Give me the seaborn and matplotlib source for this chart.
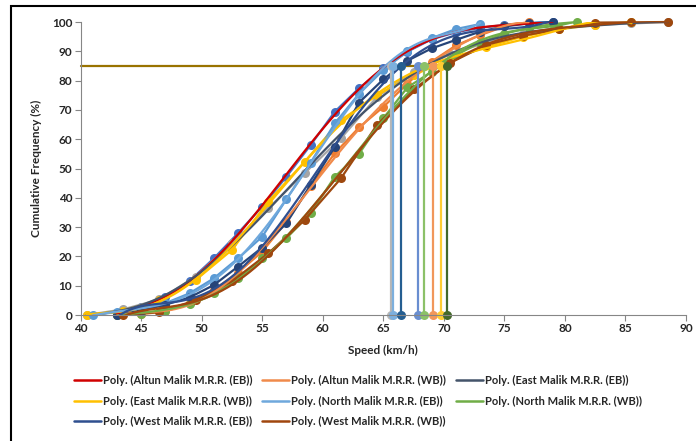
import numpy as np
import pandas as pd
import matplotlib
matplotlib.use('Agg')
import matplotlib.pyplot as plt
import seaborn as sns
from matplotlib.lines import Line2D
from matplotlib.patches import Rectangle

# Cumulative speed distributions per site (speed bins in km/h, cumulative %)
speed_altun_eb = [43, 45, 47, 49, 51, 53, 55, 57, 59, 61, 63, 65, 67, 69, 71, 73, 75, 77, 79]
cum_altun_eb = [0.5, 2.6, 6.3, 11.6, 19.3, 27.9, 37.0, 47.2, 58.0, 69.4, 77.4, 84.2, 89.9, 94.1, 96.5, 98.0, 99.0, 99.7, 100]

speed_altun_wb = [43, 45, 47, 49, 51, 53, 55, 57, 59, 61, 63, 65, 67, 69, 71, 73, 75, 77]
cum_altun_wb = [0, 0.3, 1.2, 4.0, 8.5, 14.5, 21.6, 31.8, 44.0, 55.2, 64.0, 71.0, 79.0, 86.5, 92.0, 95.5, 98.5, 100]

speed_east_eb = [40.5, 43.5, 46.5, 49.5, 52.5, 55.5, 58.5, 61.5, 64.5, 67.5, 70.5, 73.5, 76.5, 79.5, 82.5, 85.5, 88.5]
cum_east_eb = [0, 1.9, 5.3, 13.1, 24.5, 36.4, 48.4, 60.3, 74.5, 83.0, 89.0, 93.0, 96.0, 98.0, 99.0, 99.5, 100]

speed_east_wb = [40.5, 43.5, 46.5, 49.5, 52.5, 55.5, 58.5, 61.5, 64.5, 67.5, 70.5, 73.5, 76.5, 79.5, 82.5, 85.5]
cum_east_wb = [0, 1.5, 5.0, 11.9, 22.2, 38.7, 52.3, 66.5, 75.0, 82.0, 87.0, 91.5, 95.0, 97.5, 99.0, 100]

speed_north_eb = [41, 43, 45, 47, 49, 51, 53, 55, 57, 59, 61, 63, 65, 67, 69, 71, 73]
cum_north_eb = [0, 1.0, 2.0, 4.0, 7.4, 12.5, 19.3, 26.7, 39.5, 52.0, 65.4, 75.5, 83.6, 90.0, 94.5, 97.6, 99.3]

speed_north_wb = [43, 45, 47, 49, 51, 53, 55, 57, 59, 61, 63, 65, 67, 69, 71, 73, 75, 77, 79, 81]
cum_north_wb = [0, 0.5, 1.5, 3.75, 7.4, 12.5, 19.3, 26.2, 34.7, 47.2, 55.0, 67.1, 77.7, 83.0, 88.7, 93.0, 96.0, 98.0, 99.3, 100]

speed_west_eb = [43, 45, 47, 49, 51, 53, 55, 57, 59, 61, 63, 65, 67, 69, 71, 73, 75, 77, 79]
cum_west_eb = [0, 1.5, 3.5, 6.0, 10.2, 16.5, 23.0, 31.3, 44.4, 57.4, 72.5, 80.4, 86.8, 91.0, 93.9, 96.7, 98.5, 99.5, 100]

speed_west_wb = [43.5, 46.5, 49.5, 52.5, 55.5, 58.5, 61.5, 64.5, 67.5, 70.5, 73.5, 76.5, 79.5, 82.5, 85.5, 88.5]
cum_west_wb = [0, 1.0, 5.0, 11.5, 21.0, 32.4, 46.6, 65.0, 77.0, 86.0, 92.2, 95.3, 97.5, 99.8, 99.9, 100]

site_names = ['Altun Malik M.R.R. (EB)', 'Altun Malik M.R.R. (WB)', 'East Malik M.R.R. (EB)',
              'East Malik M.R.R. (WB)', 'North Malik M.R.R. (EB)', 'North Malik M.R.R. (WB)',
              'West Malik M.R.R. (EB)', 'West Malik M.R.R. (WB)']
site_speeds = [speed_altun_eb, speed_altun_wb, speed_east_eb, speed_east_wb,
               speed_north_eb, speed_north_wb, speed_west_eb, speed_west_wb]
site_cums = [cum_altun_eb, cum_altun_wb, cum_east_eb, cum_east_wb,
             cum_north_eb, cum_north_wb, cum_west_eb, cum_west_wb]

# 85th percentile speeds
v85 = [65.6, 65.8, 66.5, 67.85, 68.35, 69.1, 69.8, 70.3]
pct85 = 85
h85_end = 67.6

marker_colors = ['#4472C4', '#ED7D31', '#A5A5A5', '#FFC000', '#5B9BD5', '#70AD47', '#264478', '#9E480E']
trend_colors = ['#D00000', '#F08A4B', '#44546A', '#FFC000', '#6FA8DC', '#70AD47', '#2F4F8F', '#A0460E']
v85_colors = ['#B7B7B7', '#7CAFDD', '#255E91', '#698ED0', '#8CC168', '#F1975A', '#FFCD33', '#43682B']

sns.set_style('white')
plt.rcParams['font.family'] = ['Lato', 'DejaVu Sans']
plt.rcParams['font.weight'] = 'bold'

fig = plt.figure(figsize=(6.96, 4.41), dpi=100)
ax = fig.add_axes([0.1157, 0.2857, 0.8699, 0.6644])

for name, xs, ys, mc in zip(site_names, site_speeds, site_cums, marker_colors):
    df = pd.DataFrame({'speed': xs, 'cum': ys})
    sns.lineplot(data=df, x='speed', y='cum', ax=ax, color=mc, lw=1.6,
                 marker='o', markersize=6.5, markeredgewidth=0, clip_on=False)

for name, xs, ys, tc in zip(site_names, site_speeds, site_cums, trend_colors):
    df = pd.DataFrame({'speed': xs, 'cum': ys})
    sns.regplot(data=df, x='speed', y='cum', ax=ax, order=6, ci=None, scatter=False,
                truncate=True, line_kws={'color': tc, 'lw': 1.6})

# horizontal 85% line and the 85th percentile speeds
ax.plot([40, h85_end], [pct85, pct85], color='#997300', lw=1.6, clip_on=False, zorder=1)
for v, c in zip(v85, v85_colors):
    ax.plot([v, v], [0, pct85], color=c, lw=1.6, marker='o', markersize=6.5,
            markeredgewidth=0, clip_on=False)

ax.set_xlim(40, 90)
ax.set_ylim(0, 100)
ax.set_xticks(range(40, 91, 5))
ax.set_yticks(range(0, 101, 10))
ax.tick_params(axis='both', labelsize=8.5, length=4, width=0.8, color='#868686',
               direction='out', bottom=True, left=True, pad=2)
for lab in ax.get_xticklabels() + ax.get_yticklabels():
    lab.set_fontweight('bold')
for side in ['top', 'right']:
    ax.spines[side].set_visible(False)
for side in ['left', 'bottom']:
    ax.spines[side].set_color('#868686')
    ax.spines[side].set_linewidth(0.8)

ax.set_xlabel('Speed (km/h)', fontsize=8.5, fontweight='bold', labelpad=8)
ax.set_ylabel('Cumulative Frequency (%)', fontsize=8.5, fontweight='bold', labelpad=7)

handles = [Line2D([0], [0], color=c, lw=1.8) for c in trend_colors]
labels = ['Poly. (' + n + ')' for n in site_names]
# legend fills column by column, so reorder to read row by row
order = [0, 3, 6, 1, 4, 7, 2, 5]
fig.legend([handles[i] for i in order], [labels[i] for i in order], ncol=3,
           loc='upper left', bbox_to_anchor=(74 / 696, 1 - 375 / 441),
           frameon=False, handlelength=2.4, handletextpad=0.2, borderpad=0,
           borderaxespad=0, columnspacing=0.9, labelspacing=0.85,
           prop={'weight': 'bold', 'size': 8})

# chart area border (left and top visible)
fig.add_artist(Rectangle((11 / 696, -0.2), 1.2, 1.2 - 6 / 441, transform=fig.transFigure,
                         fill=False, edgecolor='black', lw=1.5))

fig.savefig('out.png', dpi=100)
